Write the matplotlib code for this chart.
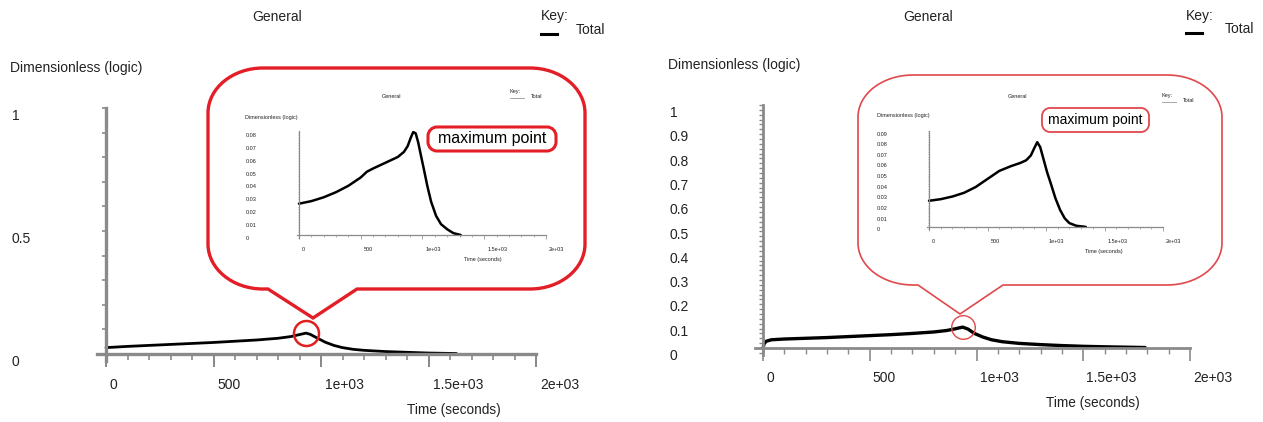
import numpy as np
import matplotlib
matplotlib.use("Agg")
from matplotlib import pyplot as plt
from matplotlib.path import Path
from matplotlib.patches import PathPatch
from matplotlib.lines import Line2D
from matplotlib.ticker import MultipleLocator
from matplotlib.transforms import offset_copy, blended_transform_factory

plt.rcParams['font.family'] = ['Liberation Sans', 'DejaVu Sans']

# ---- data ----
x_ticks = [0, 500, 1000, 1500, 2000]
x_tick_labels = ['0', '500', '1e+03', '1.5e+03', '2e+03']

left_t = [0, 100, 200, 300, 400, 500, 600, 700, 800, 860, 900, 930, 950, 980, 1020,
          1060, 1100, 1150, 1200, 1300, 1400, 1500, 1630]
left_v = [0.026, 0.031, 0.035, 0.039, 0.043, 0.047, 0.052, 0.057, 0.064, 0.071, 0.079,
          0.085, 0.080, 0.066, 0.048, 0.035, 0.026, 0.019, 0.015, 0.010, 0.007, 0.004, 0.002]

right_t = [0, 5, 15, 40, 100, 200, 300, 400, 500, 600, 700, 800, 860, 900, 935, 960, 990,
           1030, 1070, 1120, 1200, 1300, 1400, 1500, 1600, 1790]
right_v = [0.0, 0.018, 0.028, 0.034, 0.037, 0.040, 0.043, 0.047, 0.051, 0.055, 0.060, 0.066,
           0.072, 0.079, 0.086, 0.078, 0.060, 0.045, 0.034, 0.026, 0.019, 0.014, 0.010, 0.007,
           0.005, 0.002]

inset_left_t = [0, 100, 200, 300, 400, 500, 550, 600, 700, 800, 850, 880, 905, 925, 945, 965,
                990, 1010, 1040, 1070, 1110, 1150, 1200, 1250, 1310]
inset_left_v = [0.0245, 0.0265, 0.0295, 0.0335, 0.0385, 0.045, 0.0495, 0.052, 0.0565, 0.061,
                0.065, 0.0695, 0.076, 0.0805, 0.0795, 0.0725, 0.061, 0.052, 0.038, 0.026,
                0.015, 0.0085, 0.0045, 0.0015, 0.0]

inset_right_t = [0, 100, 200, 300, 400, 500, 600, 700, 780, 830, 870, 900, 925, 950, 980, 1010,
                 1040, 1080, 1120, 1160, 1200, 1260, 1340]
inset_right_v = [0.0245, 0.026, 0.0285, 0.032, 0.0375, 0.045, 0.0525, 0.057, 0.060, 0.0625,
                 0.067, 0.074, 0.0795, 0.075, 0.063, 0.051, 0.041, 0.027, 0.016, 0.008, 0.0035,
                 0.001, 0.0]

left_yticks = [0, 0.5, 1]
right_yticks = [0, 0.1, 0.2, 0.3, 0.4, 0.5, 0.6, 0.7, 0.8, 0.9, 1]
inset_left_yticks = [0, 0.01, 0.02, 0.03, 0.04, 0.05, 0.06, 0.07, 0.08]
inset_right_yticks = [0, 0.01, 0.02, 0.03, 0.04, 0.05, 0.06, 0.07, 0.08, 0.09]

W, H = 1263, 422
fig = plt.figure(figsize=(W / 100, H / 100), dpi=100)
TXT = '#222222'
AX = '#8a8a8a'


def fxy(x, y):
    return x / W, 1 - y / H


def axes_px(left, right, top, bottom):
    return fig.add_axes([left / W, 1 - bottom / H, (right - left) / W, (bottom - top) / H])


def ftext(x, y, s, size, ha='left', color=TXT):
    fig.text(x / W, 1 - y / H, s, fontsize=size, ha=ha, va='center', color=color)


def setup(ax, t, v, xlim, ylim, yticks, yminor, lw_axis, lw_line, size, ylab_x, dy, dx_lab, dy_lab, tick_len):
    ax.set_facecolor('none')
    ax.plot(t, v, color='black', lw=lw_line, solid_capstyle='round')
    ax.set_xlim(*xlim)
    ax.set_ylim(*ylim)
    for s in ['top', 'right']:
        ax.spines[s].set_visible(False)
    ax.spines['left'].set_position(('data', 0))
    ax.spines['bottom'].set_position(('data', 0))
    for s in ['left', 'bottom']:
        ax.spines[s].set_color(AX)
        ax.spines[s].set_linewidth(lw_axis)
    ax.set_xticks(x_ticks)
    ax.xaxis.set_minor_locator(MultipleLocator(100))
    ax.set_yticks(yticks)
    ax.yaxis.set_minor_locator(MultipleLocator(yminor))
    ax.tick_params(axis='x', which='major', direction='out', length=tick_len, width=lw_axis * 0.6, color=AX,
                   labelbottom=False)
    ax.tick_params(axis='x', which='minor', direction='out', length=tick_len * 0.45, width=lw_axis * 0.5, color=AX)
    ax.tick_params(axis='y', which='both', direction='out', length=tick_len * 0.3, width=lw_axis * 0.5, color=AX,
                   labelleft=False)
    # tick labels, placed like the original software does
    ytr = offset_copy(blended_transform_factory(fig.transFigure, ax.transData), fig, x=0, y=-dy, units='dots')
    for yv in yticks:
        ax.text(ylab_x / W, yv, f'{yv:g}', transform=ytr, fontsize=size, ha='left', va='center', color=TXT)
    xtr = offset_copy(ax.transData, fig, x=dx_lab, y=-dy_lab, units='dots')
    for xv, lab in zip(x_ticks, x_tick_labels):
        ax.text(xv, 0, lab, transform=xtr, fontsize=size, ha='left', va='center', color=TXT)


def rounded_path(x0, y0, x1, y1, rx, ry, pointer=None):
    k = 0.5523
    verts = [(x0 + rx, y0), (x1 - rx, y0),
             (x1 - rx + k * rx, y0), (x1, y0 + ry - k * ry), (x1, y0 + ry),
             (x1, y1 - ry),
             (x1, y1 - ry + k * ry), (x1 - rx + k * rx, y1), (x1 - rx, y1)]
    codes = [Path.MOVETO, Path.LINETO, Path.CURVE4, Path.CURVE4, Path.CURVE4, Path.LINETO,
             Path.CURVE4, Path.CURVE4, Path.CURVE4]
    if pointer is not None:
        pl, pr, tip = pointer
        verts += [(pr, y1), tip, (pl, y1)]
        codes += [Path.LINETO] * 3
    verts += [(x0 + rx, y1),
              (x0 + rx - k * rx, y1), (x0, y1 - ry + k * ry), (x0, y1 - ry),
              (x0, y0 + ry),
              (x0, y0 + ry - k * ry), (x0 + rx - k * rx, y0), (x0 + rx, y0),
              (x0 + rx, y0)]
    codes += [Path.LINETO, Path.CURVE4, Path.CURVE4, Path.CURVE4, Path.LINETO,
              Path.CURVE4, Path.CURVE4, Path.CURVE4, Path.CLOSEPOLY]
    return Path([fxy(*p) for p in verts], codes)


def add_shape(path, color, lw):
    fig.add_artist(PathPatch(path, facecolor='none', edgecolor=color, lw=lw,
                             transform=fig.transFigure, joinstyle='miter', zorder=5))


# ---- main panels ----
axL = axes_px(97.4, 536, 108, 361.4)
setup(axL, left_t, left_v, (-40, 2000), (-0.03, 1.0), left_yticks, 0.1, 2.4, 2.0, 10,
      12, 8, 4, 31, 9)
axR = axes_px(754.5, 1190, 105, 355.3)
setup(axR, right_t, right_v, (-40, 2000), (-0.03, 1.0), right_yticks, 0.02, 2.0, 2.4, 10,
      670, 8, 3, 30, 9)

# circles around the maximum
iL = int(np.argmax(left_v))
axL.plot(left_t[iL], left_v[iL], 'o', ms=18, mfc='none', mec='#e02020', mew=1.8, zorder=6)
iR = int(np.argmax(right_v))
axR.plot(right_t[iR], right_v[iR], 'o', ms=17, mfc='none', mec='#e04848', mew=1.0, zorder=6)

# titles / labels / key
for gx, kx, tx, ly, off in [(277, 541, 576, 68, 0), (928, 1186, 1225, 65, -1)]:
    ftext(gx, 17, 'General', 10, ha='center')
    ftext(kx, 16, 'Key:', 10)
    ftext(tx, 30 + off, 'Total', 10)
    fig.add_artist(Line2D([kx / W, (kx + 16) / W], [1 - (34 + off) / H] * 2, color='black', lw=2.2))
ftext(10, 68, 'Dimensionless (logic)', 10)
ftext(668, 65, 'Dimensionless (logic)', 10)
ftext(454, 410, 'Time (seconds)', 9.8, ha='center')
ftext(1093, 403, 'Time (seconds)', 9.8, ha='center')

# ---- callout bubbles ----
add_shape(rounded_path(208, 68, 585, 289, 55, 45, pointer=(268, 357, (313, 318))), '#e41e26', 2.4)
add_shape(rounded_path(858, 75, 1222, 285, 55, 42, pointer=(918, 1003, (960, 314))), '#e0484c', 1.2)

# ---- insets ----
inL = axes_px(296.5, 546, 131.4, 237.6)
setup(inL, inset_left_t, inset_left_v, (-20, 2000), (-0.002, 0.081), inset_left_yticks, 0.002, 0.9, 1.8, 4.0,
      246, 3, 3, 14, 3)
inR = axes_px(926.7, 1163, 131, 229)
setup(inR, inset_right_t, inset_right_v, (-20, 2000), (-0.002, 0.09), inset_right_yticks, 0.002, 0.9, 1.8, 4.0,
      877, 3, 3, 15, 3)

for gx, gy, kx, ky, dx, dy, tx, ty in [(392, 96, 510, 91, 245, 117, 483, 259),
                                       (1017, 96, 1162, 95, 877, 116, 1104, 252)]:
    ftext(gx, gy, 'General', 4.0, ha='center')
    ftext(kx, ky, 'Key:', 4.0)
    ftext(kx + 21, ky + 5, 'Total', 4.0)
    fig.add_artist(Line2D([kx / W, (kx + 14) / W], [1 - (ky + 7) / H] * 2, color='#999999', lw=0.6))
    ftext(dx, dy, 'Dimensionless (logic)', 4.0)
    ftext(tx, ty, 'Time (seconds)', 4.0, ha='center')

# "maximum point" labels
add_shape(rounded_path(428, 127, 556, 151, 9, 9), '#e41e26', 2.2)
ftext(492, 139, 'maximum point', 11.5, ha='center', color='black')
add_shape(rounded_path(1042, 108, 1149, 132, 8, 8), '#e0484c', 1.3)
ftext(1095, 120, 'maximum point', 10, ha='center', color='black')

fig.savefig('out.png', dpi=100)
